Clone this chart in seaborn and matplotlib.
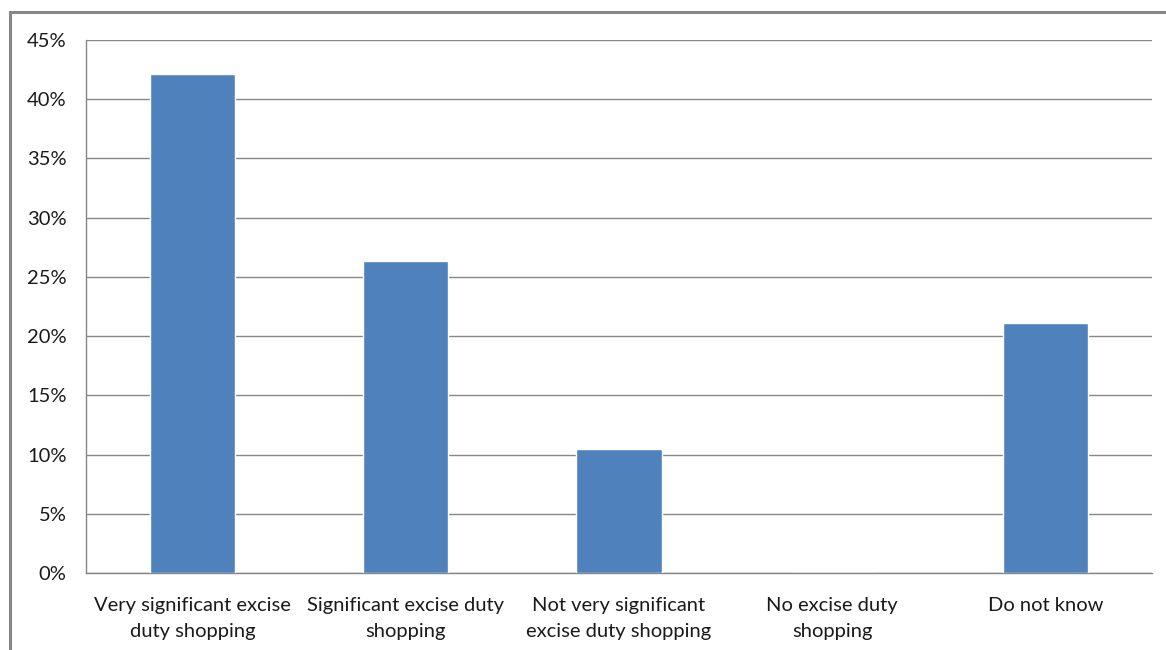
import matplotlib.pyplot as plt
import matplotlib.patches as mpatches
import pandas as pd
import seaborn as sns
from matplotlib.ticker import FuncFormatter

categories = [
    "Very significant excise\nduty shopping",
    "Significant excise duty\nshopping",
    "Not very significant\nexcise duty shopping",
    "No excise duty\nshopping",
    "Do not know",
]
shares = [42.1, 26.3, 10.5, 0.0, 21.1]
y_ticks = [0, 5, 10, 15, 20, 25, 30, 35, 40, 45]

sns.set_style("white")
plt.rcParams["font.family"] = ["Lato", "DejaVu Sans"]

df = pd.DataFrame({"category": categories, "share": shares})

fig = plt.figure(figsize=(11.66, 6.5), dpi=100)
ax = fig.add_axes([86 / 1166, 77 / 650, 1066 / 1166, 533 / 650])

# outer chart frame (Excel-style)
fig.patches.append(
    mpatches.Rectangle(
        (10 / 1166, -0.1), 1.2, (650 - 12) / 650 + 0.1,
        transform=fig.transFigure, fill=False, edgecolor="#878787", linewidth=2.2,
    )
)

sns.barplot(data=df, x="category", y="share", color="#4F81BD", saturation=1,
            width=0.4, ax=ax, zorder=3)

ax.set_ylim(0, 45)
ax.set_yticks(y_ticks)
ax.yaxis.set_major_formatter(FuncFormatter(lambda v, _: f"{v:.0f}%"))
ax.grid(axis="y", color="#868686", linewidth=1, zorder=0)
ax.set_axisbelow(True)
ax.set_xlabel("")
ax.set_ylabel("")
for side in ["top", "right"]:
    ax.spines[side].set_visible(False)
for side in ["left", "bottom"]:
    ax.spines[side].set_color("#868686")
    ax.spines[side].set_linewidth(1)
ax.tick_params(axis="both", length=0, labelsize=14.5, colors="#1a1a1a")
ax.tick_params(axis="y", pad=14)
ax.tick_params(axis="x", pad=17)
for lbl in ax.get_xticklabels():
    lbl.set_linespacing(1.7)

fig.savefig("out.png", dpi=100)
